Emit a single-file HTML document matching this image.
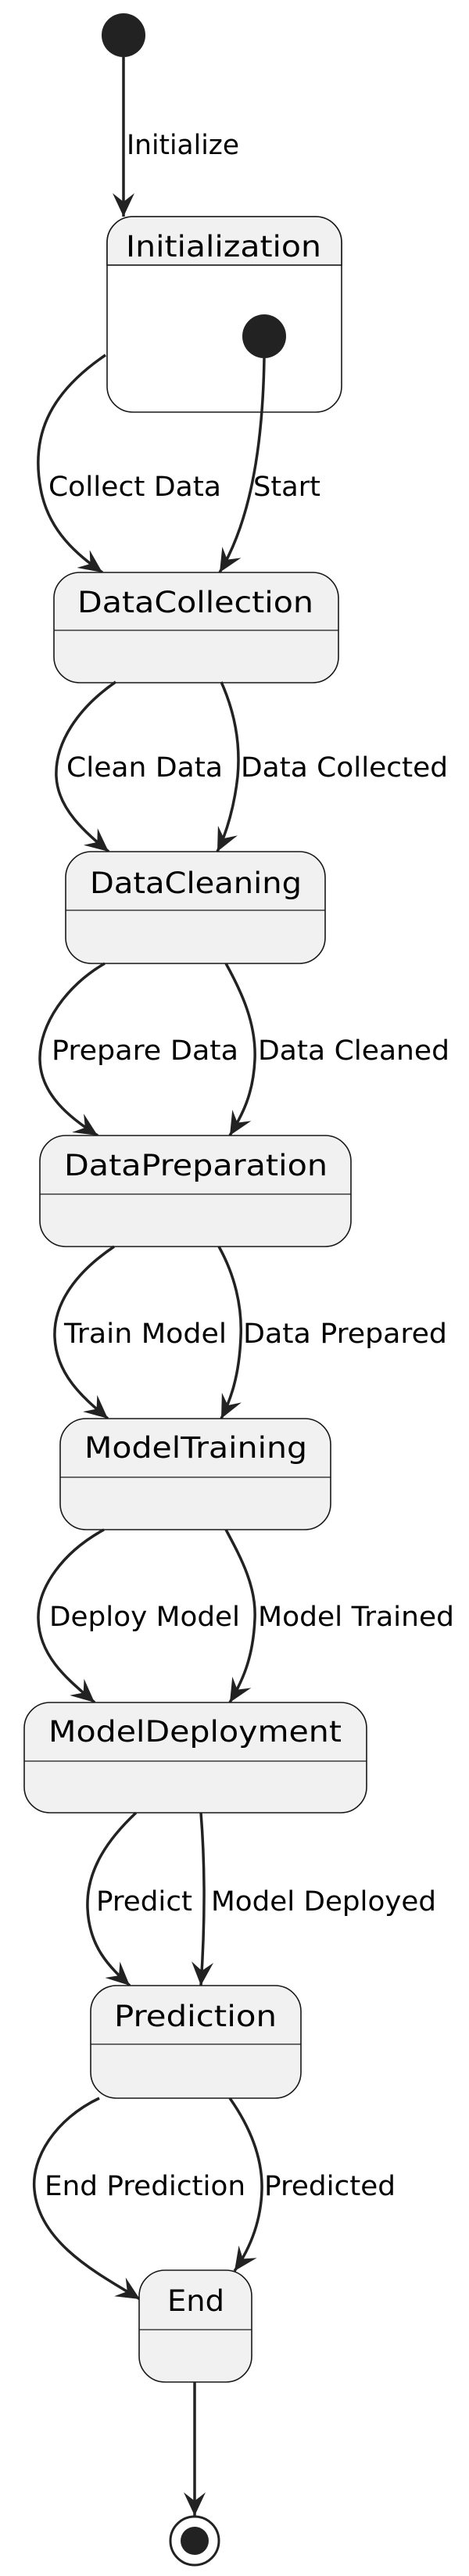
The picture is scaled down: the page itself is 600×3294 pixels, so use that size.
<!DOCTYPE html>
<html><head><meta charset="utf-8"><style>
html,body{margin:0;padding:0;background:#fff;}
svg{display:block;}
text{font-family:"DejaVu Sans","Liberation Sans",sans-serif;fill:#000;}
.lbl{font-size:35px;}
.ttl{font-size:37px;}
.e{fill:none;stroke:#222;stroke-width:3.5;marker-end:url(#ah);}
.box{fill:#F1F1F1;stroke:#181818;stroke-width:1.6;}
.hl{stroke:#181818;stroke-width:1.2;}
</style></head><body>
<svg width="600" height="3294" viewBox="0 0 600 3294" xmlns="http://www.w3.org/2000/svg">
<defs>
<marker id="ah" markerUnits="userSpaceOnUse" viewBox="-32 -15 34 30" refX="0" refY="0" markerWidth="34" markerHeight="30" orient="auto">
<path d="M0,0 L-30,-14 L-19,0 L-30,14 Z" fill="#222"/>
</marker>
</defs>

<!-- start -->
<circle cx="158" cy="45" r="28" fill="#222"/>
<path class="e" d="M158,73 L158,277"/>
<text class="lbl" x="162" y="197" textLength="144" lengthAdjust="spacingAndGlyphs">Initialize</text>

<!-- Initialization composite -->
<rect x="137" y="277" width="300" height="250" rx="33" ry="33" fill="#fff" stroke="#181818" stroke-width="1.6"/>
<path d="M137,339 L137,310 A33,33 0 0 1 170,277 L404,277 A33,33 0 0 1 437,310 L437,339 Z" fill="#F1F1F1" stroke="#181818" stroke-width="1.6"/>
<line class="hl" x1="137" y1="339" x2="437" y2="339"/>
<text class="ttl" x="161" y="328" textLength="250" lengthAdjust="spacingAndGlyphs">Initialization</text>
<circle cx="338" cy="430" r="28" fill="#222"/>

<path class="e" d="M135,454 C60,505 40,560 52,625 C62,680 100,710 131,732"/>
<text class="lbl" x="62" y="634" textLength="221" lengthAdjust="spacingAndGlyphs">Collect Data</text>
<path class="e" d="M338,458 C336,580 318,670 281,732"/>
<text class="lbl" x="324" y="634" textLength="86" lengthAdjust="spacingAndGlyphs">Start</text>

<!-- DataCollection -->
<rect class="box" x="69" y="732" width="364" height="141" rx="33"/>
<line class="hl" x1="69" y1="806" x2="433" y2="806"/>
<text class="ttl" x="99" y="783" textLength="302" lengthAdjust="spacingAndGlyphs">DataCollection</text>

<path class="e" d="M148,872 C100,905 70,950 72,993 C74,1035 110,1065 139,1089"/>
<text class="lbl" x="85" y="993" textLength="200" lengthAdjust="spacingAndGlyphs">Clean Data</text>
<path class="e" d="M283,872 C300,910 308,950 304,993 C300,1030 290,1065 278,1089"/>
<text class="lbl" x="308" y="993" textLength="265" lengthAdjust="spacingAndGlyphs">Data Collected</text>

<!-- DataCleaning -->
<rect class="box" x="84" y="1089" width="332" height="143" rx="33"/>
<line class="hl" x1="84" y1="1164" x2="416" y2="1164"/>
<text class="ttl" x="115" y="1142" textLength="271" lengthAdjust="spacingAndGlyphs">DataCleaning</text>

<path class="e" d="M134,1232 C85,1260 50,1310 51,1355 C52,1400 90,1430 125,1452"/>
<text class="lbl" x="66" y="1355" textLength="239" lengthAdjust="spacingAndGlyphs">Prepare Data</text>
<path class="e" d="M289,1232 C310,1270 328,1310 326,1355 C324,1400 310,1425 294,1452"/>
<text class="lbl" x="330" y="1355" textLength="245" lengthAdjust="spacingAndGlyphs">Data Cleaned</text>

<!-- DataPreparation -->
<rect class="box" x="51" y="1452" width="398" height="142" rx="33"/>
<line class="hl" x1="51" y1="1527" x2="449" y2="1527"/>
<text class="ttl" x="82" y="1503" textLength="337" lengthAdjust="spacingAndGlyphs">DataPreparation</text>

<path class="e" d="M146,1594 C100,1625 68,1665 70,1710 C72,1760 110,1790 138,1814"/>
<text class="lbl" x="82" y="1717" textLength="208" lengthAdjust="spacingAndGlyphs">Train Model</text>
<path class="e" d="M280,1594 C300,1630 310,1670 308,1710 C306,1760 295,1790 283,1814"/>
<text class="lbl" x="311" y="1717" textLength="261" lengthAdjust="spacingAndGlyphs">Data Prepared</text>

<!-- ModelTraining -->
<rect class="box" x="77" y="1814" width="346" height="142" rx="33"/>
<line class="hl" x1="77" y1="1889" x2="423" y2="1889"/>
<text class="ttl" x="108" y="1864" textLength="285" lengthAdjust="spacingAndGlyphs">ModelTraining</text>

<path class="e" d="M133,1956 C80,1985 48,2030 49,2070 C50,2120 90,2150 121,2177"/>
<text class="lbl" x="63" y="2079" textLength="244" lengthAdjust="spacingAndGlyphs">Deploy Model</text>
<path class="e" d="M289,1956 C310,1995 328,2030 326,2070 C324,2120 310,2150 294,2177"/>
<text class="lbl" x="330" y="2079" textLength="251" lengthAdjust="spacingAndGlyphs">Model Trained</text>

<!-- ModelDeployment -->
<rect class="box" x="31" y="2177" width="438" height="141" rx="33"/>
<line class="hl" x1="31" y1="2252" x2="469" y2="2252"/>
<text class="ttl" x="62" y="2227" textLength="375" lengthAdjust="spacingAndGlyphs">ModelDeployment</text>

<path class="e" d="M174,2318 C140,2350 110,2390 112,2440 C114,2490 140,2515 166,2539"/>
<text class="lbl" x="123" y="2443" textLength="123" lengthAdjust="spacingAndGlyphs">Predict</text>
<path class="e" d="M257,2318 C262,2380 263,2450 257,2539"/>
<text class="lbl" x="270" y="2443" textLength="288" lengthAdjust="spacingAndGlyphs">Model Deployed</text>

<!-- Prediction -->
<rect class="box" x="116" y="2539" width="269" height="144" rx="33"/>
<line class="hl" x1="116" y1="2614" x2="385" y2="2614"/>
<text class="ttl" x="146" y="2591" textLength="208" lengthAdjust="spacingAndGlyphs">Prediction</text>

<path class="e" d="M127,2683 C70,2710 40,2760 44,2800 C50,2870 130,2910 179,2940"/>
<text class="lbl" x="57" y="2807" textLength="257" lengthAdjust="spacingAndGlyphs">End Prediction</text>
<path class="e" d="M294,2683 C320,2720 336,2760 335,2800 C334,2840 320,2875 300,2904"/>
<text class="lbl" x="338" y="2807" textLength="168" lengthAdjust="spacingAndGlyphs">Predicted</text>

<!-- End -->
<rect class="box" x="178" y="2903" width="144" height="143" rx="33"/>
<line class="hl" x1="178" y1="2979" x2="322" y2="2979"/>
<text class="ttl" x="214" y="2955" textLength="73" lengthAdjust="spacingAndGlyphs">End</text>

<path class="e" d="M249,3046 L249,3217"/>
<circle cx="249" cy="3249" r="31" fill="#fff" stroke="#222" stroke-width="3"/>
<circle cx="249" cy="3249" r="18" fill="#222"/>
</svg>
</body></html>
